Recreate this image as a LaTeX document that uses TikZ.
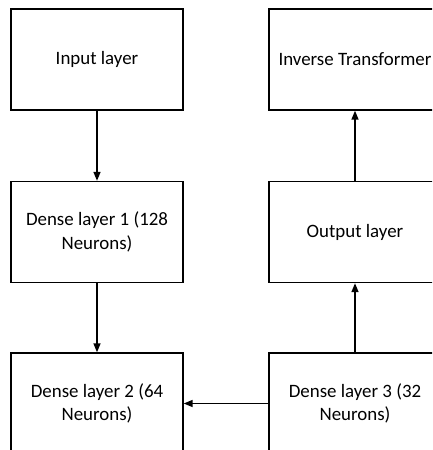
\documentclass[tikz,border=0pt]{standalone}
\usepackage{fontspec}
\setmainfont{Carlito}
\usetikzlibrary{arrows.meta}
\begin{document}
\begin{tikzpicture}[x=1pt,y=-1pt,
  box/.style={draw=black,line width=1.4pt,minimum width=172pt,minimum height=101pt,
    inner sep=0pt,align=center,font=\fontsize{18.9}{23.5}\selectfont,anchor=center},
  conn/.style={draw=black,line width=1.5pt,-{Triangle[length=9pt,width=7pt]}}]
\useasboundingbox (0,0) rectangle (432,450);
\clip (0,0) rectangle (432,450);
\node[box] (inp) at (97,59.5) {Input layer};
\node[box] (inv) at (355,59.5) {Inverse Transformer};
\node[box] (d1) at (97,232) {Dense layer 1 (128\\Neurons)};
\node[box] (out) at (355,232) {Output layer};
\node[box] (d2) at (97,403.5) {Dense layer 2 (64\\Neurons)};
\node[box] (d3) at (355,403.5) {Dense layer 3 (32\\Neurons)};
\draw[conn] (inp) -- (d1);
\draw[conn] (d1) -- (d2);
\draw[conn] (d3) -- (d2);
\draw[conn] (d3) -- (out);
\draw[conn] (out) -- (inv);
\end{tikzpicture}
\end{document}
